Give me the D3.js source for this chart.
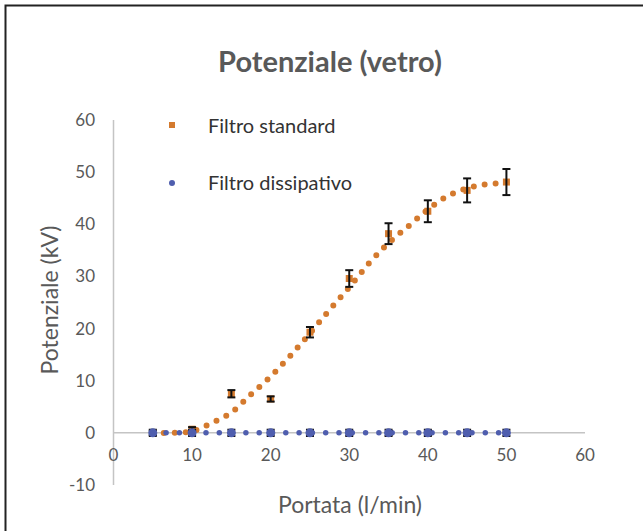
<!DOCTYPE html>
<html>
<head>
<meta charset="utf-8">
<script src="https://cdn.jsdelivr.net/npm/d3@7"></script>
<style>
  body { margin: 0; background: #fff; }
  svg { display: block; font-family: Lato, "Open Sans", sans-serif; }
</style>
</head>
<body>
<script>
// portata (l/min)
var portata = [5, 10, 15, 20, 25, 30, 35, 40, 45, 50];
// potenziale (kV) e errori
var standard = [0, 0.7, 7.5, 6.5, 19.3, 29.6, 38.2, 42.5, 46.5, 48.1];
var standardErr = [0.4, 0.4, 0.7, 0.5, 1, 1.6, 2, 2.1, 2.3, 2.5];
var dissipativo = [0, 0, 0, 0, 0, 0, 0, 0, 0, 0];
var dissipativoErr = [0.6, 0.6, 0.6, 0.6, 0.6, 0.6, 0.6, 0.6, 0.6, 0.6];
// linee di tendenza
var trendX = [5, 7.5, 10, 12.5, 15, 17.5, 20, 22.5, 25, 27.5, 30, 32.5, 35, 37.5, 40, 42.5, 45, 47.5, 50];
var trendStandard = [0, 0, 0.3, 1.9, 3.9, 7.4, 10.8, 14.8, 19.1, 23.6, 27.9, 32.5, 36.4, 39.6, 42.8, 45.4, 46.9, 47.7, 47.9];
var trendDissipativo = [0, 0, 0, 0, 0, 0, 0, 0, 0, 0, 0, 0, 0, 0, 0, 0, 0, 0, 0];
var xTicks = [0, 10, 20, 30, 40, 50, 60];
var yTicks = [-10, 0, 10, 20, 30, 40, 50, 60];
var seriesNames = ['Filtro standard', 'Filtro dissipativo'];

var width = 643, height = 531;
var orange = '#d47a2e', blue = '#4f5eae', grey = '#595959';

var svg = d3.select('body').append('svg')
    .attr('width', width)
    .attr('height', height);

// bordo
svg.append('rect')
    .attr('x', 5.5).attr('y', 5.5)
    .attr('width', 700).attr('height', 600)
    .attr('fill', 'none')
    .attr('stroke', '#222')
    .attr('stroke-width', 2);

var x = d3.scaleLinear().domain([0, 60]).range([113.5, 585]);
var y = d3.scaleLinear().domain([-10, 60]).range([485, 120]);

// assi
svg.append('line')
    .attr('x1', x(0)).attr('x2', x(0))
    .attr('y1', y(60)).attr('y2', y(-10))
    .attr('stroke', '#c4c4c4').attr('stroke-width', 1.5);
svg.append('line')
    .attr('x1', x(0)).attr('x2', x(60))
    .attr('y1', y(0)).attr('y2', y(0))
    .attr('stroke', '#c4c4c4').attr('stroke-width', 1.5);

svg.selectAll('.ytick').data(yTicks).enter().append('text')
    .attr('class', 'ytick')
    .attr('x', 95)
    .attr('y', function(d) { return y(d); })
    .attr('dy', '0.35em')
    .attr('text-anchor', 'end')
    .attr('font-size', 17)
    .attr('fill', grey)
    .text(function(d) { return d; });

svg.selectAll('.xtick').data(xTicks).enter().append('text')
    .attr('class', 'xtick')
    .attr('x', function(d) { return x(d); })
    .attr('y', y(0) + 28)
    .attr('text-anchor', 'middle')
    .attr('font-size', 17)
    .attr('fill', grey)
    .text(function(d) { return d; });

// titoli
svg.append('text')
    .attr('x', 330).attr('y', 72)
    .attr('text-anchor', 'middle')
    .attr('font-size', 29)
    .attr('font-weight', 'bold')
    .attr('fill', grey)
    .text('Potenziale (vetro)');

svg.append('text')
    .attr('x', 350).attr('y', 513)
    .attr('text-anchor', 'middle')
    .attr('font-size', 23)
    .attr('fill', grey)
    .text('Portata (l/min)');

svg.append('text')
    .attr('transform', 'translate(58,300) rotate(-90)')
    .attr('text-anchor', 'middle')
    .attr('font-size', 23)
    .attr('fill', grey)
    .text('Potenziale (kV)');

// linee di tendenza
var line = d3.line()
    .x(function(d) { return x(d[0]); })
    .y(function(d) { return y(d[1]); })
    .curve(d3.curveCatmullRom);

svg.append('path')
    .attr('d', line(d3.zip(trendX, trendStandard)))
    .attr('fill', 'none')
    .attr('stroke', orange)
    .attr('stroke-width', 6)
    .attr('stroke-linecap', 'round')
    .attr('stroke-dasharray', '0,11');

svg.append('path')
    .attr('d', line(d3.zip(trendX, trendDissipativo)))
    .attr('fill', 'none')
    .attr('stroke', blue)
    .attr('stroke-width', 5.5)
    .attr('stroke-linecap', 'round')
    .attr('stroke-dasharray', '0,13.3');

function errorBars(vals, errs) {
    var g = svg.append('g')
        .attr('stroke', '#111')
        .attr('stroke-width', 2);
    portata.forEach(function(p, i) {
        var cx = x(p), top = y(vals[i] + errs[i]), bot = y(vals[i] - errs[i]);
        g.append('line').attr('x1', cx).attr('x2', cx).attr('y1', top).attr('y2', bot);
        g.append('line').attr('x1', cx - 4).attr('x2', cx + 4).attr('y1', top).attr('y2', top);
        g.append('line').attr('x1', cx - 4).attr('x2', cx + 4).attr('y1', bot).attr('y2', bot);
    });
}

// serie standard
svg.selectAll('.sq').data(d3.zip(portata, standard)).enter().append('rect')
    .attr('class', 'sq')
    .attr('x', function(d) { return x(d[0]) - 3.5; })
    .attr('y', function(d) { return y(d[1]) - 3.5; })
    .attr('width', 7).attr('height', 7)
    .attr('fill', orange);
errorBars(standard, standardErr);

// serie dissipativo
errorBars(dissipativo, dissipativoErr);
svg.selectAll('.dot').data(d3.zip(portata, dissipativo)).enter().append('circle')
    .attr('class', 'dot')
    .attr('cx', function(d) { return x(d[0]); })
    .attr('cy', function(d) { return y(d[1]); })
    .attr('r', 4.5)
    .attr('fill', blue);

// legenda
var leg = svg.append('g');
leg.append('rect')
    .attr('x', 169).attr('y', 122)
    .attr('width', 6).attr('height', 6)
    .attr('fill', orange);
leg.append('circle')
    .attr('cx', 172).attr('cy', 183)
    .attr('r', 3)
    .attr('fill', blue);
leg.selectAll('text').data(seriesNames).enter().append('text')
    .attr('x', 208)
    .attr('y', function(d, i) { return 126 + i * 57; })
    .attr('dy', '0.35em')
    .attr('font-size', 20)
    .attr('fill', '#333')
    .text(function(d) { return d; });
</script>
</body>
</html>
